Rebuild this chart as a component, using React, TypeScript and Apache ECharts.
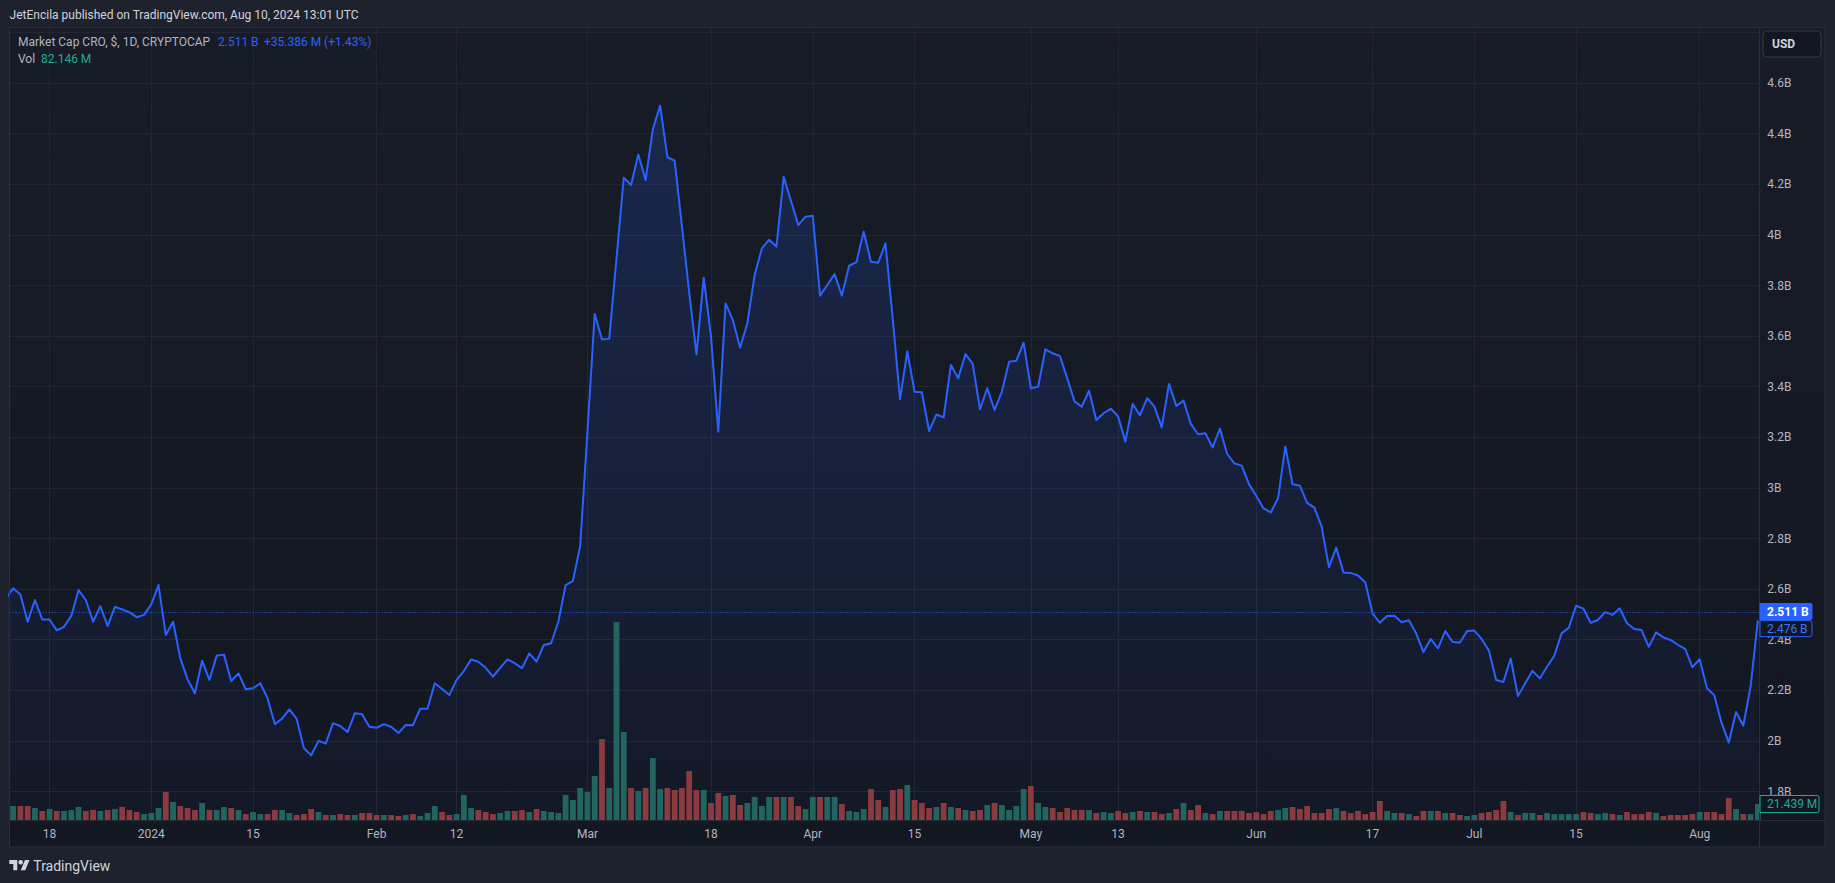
import React, { useEffect, useRef } from "react";
import * as echarts from "echarts";

// ---------- data ----------
const START_DATE = "2023-12-12"; // first daily close (partly outside the view)

// Market cap, billions USD, daily closes from 2023-12-12 to 2024-08-09
const marketCapB = [
  2.563,
  2.603, 2.579, 2.471, 2.557, 2.480, 2.480, 2.437, 2.451, 2.494, 2.596,
  2.557, 2.471, 2.533, 2.454, 2.530, 2.520, 2.508, 2.489, 2.498, 2.540,
  2.616, 2.419, 2.471, 2.326, 2.243, 2.188, 2.317, 2.241, 2.337, 2.341,
  2.237, 2.267, 2.204, 2.208, 2.228, 2.168, 2.066, 2.088, 2.125, 2.087,
  1.971, 1.943, 2.000, 1.989, 2.070, 2.059, 2.035, 2.109, 2.105, 2.056,
  2.052, 2.066, 2.056, 2.031, 2.063, 2.062, 2.127, 2.127, 2.228, 2.205,
  2.181, 2.241, 2.276, 2.322, 2.313, 2.289, 2.254, 2.289, 2.322, 2.307,
  2.287, 2.346, 2.313, 2.379, 2.386, 2.471, 2.616, 2.632, 2.770, 3.220,
  3.687, 3.587, 3.590, 3.907, 4.226, 4.197, 4.318, 4.217, 4.417, 4.511,
  4.307, 4.293, 4.034, 3.773, 3.528, 3.831, 3.598, 3.222, 3.729, 3.664,
  3.554, 3.651, 3.841, 3.947, 3.981, 3.953, 4.230, 4.134, 4.039, 4.072,
  4.076, 3.760, 3.802, 3.845, 3.760, 3.878, 3.892, 4.013, 3.894, 3.890,
  3.967, 3.668, 3.350, 3.540, 3.380, 3.378, 3.225, 3.290, 3.279, 3.486,
  3.433, 3.529, 3.490, 3.311, 3.394, 3.308, 3.380, 3.499, 3.503, 3.574,
  3.394, 3.400, 3.548, 3.532, 3.521, 3.433, 3.342, 3.321, 3.384, 3.268,
  3.295, 3.313, 3.282, 3.183, 3.332, 3.287, 3.355, 3.321, 3.239, 3.411,
  3.324, 3.345, 3.253, 3.212, 3.216, 3.160, 3.234, 3.134, 3.097, 3.088,
  3.015, 2.969, 2.919, 2.903, 2.959, 3.163, 3.014, 3.009, 2.941, 2.922,
  2.847, 2.686, 2.764, 2.666, 2.664, 2.654, 2.627, 2.504, 2.467, 2.494,
  2.495, 2.469, 2.477, 2.425, 2.351, 2.403, 2.366, 2.434, 2.392, 2.388,
  2.434, 2.436, 2.403, 2.357, 2.241, 2.233, 2.326, 2.177, 2.228, 2.277,
  2.247, 2.293, 2.336, 2.425, 2.447, 2.534, 2.523, 2.467, 2.478, 2.509,
  2.498, 2.524, 2.465, 2.442, 2.438, 2.372, 2.429, 2.409, 2.399, 2.380,
  2.364, 2.291, 2.323, 2.208, 2.181, 2.072, 1.994, 2.114, 2.060, 2.214,
  2.476,
];

// Volume, millions USD, same days
const volumeM = [
  16.1,
  18.8, 18.8, 18.8, 16.1, 12.1, 14.7, 12.1, 12.1, 13.4, 17.4,
  12.1, 13.4, 12.1, 13.4, 14.7, 17.4, 13.4, 10.7, 8.0, 9.4,
  16.1, 37.5, 24.1, 18.8, 16.1, 13.4, 22.8, 13.4, 13.4, 17.4,
  16.1, 13.4, 8.0, 10.7, 8.0, 8.0, 13.4, 13.4, 9.4, 6.7,
  8.0, 14.7, 10.7, 6.7, 6.7, 8.0, 6.7, 6.7, 9.4, 9.4,
  6.7, 6.7, 6.7, 5.4, 6.7, 8.0, 5.4, 9.4, 18.8, 10.7,
  6.7, 8.0, 33.5, 16.1, 13.4, 10.7, 8.0, 9.4, 12.1, 12.1,
  13.4, 10.7, 14.7, 12.1, 10.7, 9.4, 33.5, 26.8, 42.9, 37.5,
  59.0, 108.5, 42.9, 265.3, 117.9, 42.9, 38.9, 42.9, 83.1, 41.5,
  42.9, 40.2, 42.9, 65.7, 40.2, 40.2, 22.8, 36.2, 32.2, 33.5,
  20.1, 22.8, 30.8, 18.8, 30.8, 30.8, 30.8, 30.8, 18.8, 14.7,
  30.8, 30.8, 30.8, 30.8, 21.4, 12.1, 10.7, 14.7, 41.5, 26.8,
  17.4, 40.2, 41.5, 46.9, 26.8, 22.8, 16.1, 17.4, 22.8, 17.4,
  16.1, 13.4, 12.1, 13.4, 20.1, 22.8, 20.1, 13.4, 18.8, 41.5,
  45.6, 22.8, 17.4, 16.1, 10.7, 16.1, 13.4, 13.4, 13.4, 9.4,
  10.7, 9.4, 12.1, 9.4, 10.7, 12.1, 10.7, 10.7, 8.0, 9.4,
  14.7, 22.8, 13.4, 20.1, 9.4, 8.0, 12.1, 12.1, 12.1, 12.1,
  9.4, 10.7, 8.0, 12.1, 13.4, 16.1, 17.4, 14.7, 18.8, 9.4,
  9.4, 14.7, 16.1, 12.1, 9.4, 12.1, 8.0, 10.7, 25.5, 12.1,
  9.4, 9.4, 8.0, 5.4, 12.1, 12.1, 12.1, 9.4, 9.4, 6.7,
  5.4, 6.7, 9.4, 10.7, 13.4, 25.5, 10.7, 6.7, 9.4, 9.4,
  6.7, 9.4, 8.0, 8.0, 8.0, 8.0, 10.7, 9.4, 8.0, 9.4,
  8.0, 6.7, 10.7, 8.0, 8.0, 10.7, 9.4, 5.4, 6.7, 6.7,
  6.7, 8.0, 10.7, 10.7, 10.7, 8.0, 29.5, 14.7, 8.0, 8.0,
  21.439,
];

const tickDates = [
  "2023-12-18", "2024-01-01", "2024-01-15", "2024-02-01", "2024-02-12", "2024-03-01",
  "2024-03-18", "2024-04-01", "2024-04-15", "2024-05-01", "2024-05-13", "2024-06-01",
  "2024-06-17", "2024-07-01", "2024-07-15", "2024-08-01",
];
const tickLabels = ["18", "2024", "15", "Feb", "12", "Mar", "18", "Apr", "15", "May", "13", "Jun", "17", "Jul", "15", "Aug"];

const priceGridTicks = [1.8, 2.0, 2.2, 2.4, 2.6, 2.8, 3.0, 3.2, 3.4, 3.6, 3.8, 4.0, 4.2, 4.4, 4.6, 4.8];
const priceLabelTicks = [1.8, 2.0, 2.2, 2.4, 2.6, 2.8, 3.0, 3.2, 3.4, 3.6, 3.8, 4.0, 4.2, 4.4, 4.6];

const LAST_PRICE = 2.511;
const LAST_PRICE_TEXT = "2.511 B";
const PREV_PRICE_TEXT = "2.476 B";
const LAST_VOLUME = 21.439;
const LAST_VOLUME_TEXT = "21.439 M";

const HEADER_TEXT = "JetEncila published on TradingView.com, Aug 10, 2024 13:01 UTC";
const LEGEND_SYMBOL = "Market Cap CRO, $, 1D, CRYPTOCAP";
const LEGEND_PRICE = "2.511 B";
const LEGEND_CHANGE = "+35.386 M (+1.43%)";
const LEGEND_VOL = "82.146 M";

// ---------- style ----------
const FONT = 'Roboto, "Noto Sans", "DejaVu Sans", sans-serif';
const BLUE = "#2962ff";
const TEAL_TEXT = "#22ab94";
const UP = "#22655f";
const DOWN = "#8b3a40";
const GRID = "#232632";
const FRAME = "#2a2e39";
const AXIS_TEXT = "#b2b5be";
const OUTER_BG = "#1e222d";
const PANE_BG = "#131722";

const PANE_L = 9.5;
const PANE_T = 27;
const AXIS_X = 1759.3;
const TIME_Y = 820;
const PANE_R = 1825;
const PANE_B = 847;
const X_MIN = 0.5;

let logoRegistered = false;
function registerLogo() {
  if (logoRegistered) return;
  echarts.graphic.registerShape(
    "tvlogo",
    echarts.graphic.extendPath("M14 22H7V11H0V4h14v18zM28 22h-8l7.5-18h8L28 22z", {})
  );
  logoRegistered = true;
}

function dayIndex(d: string): number {
  return Math.round((Date.parse(d + "T00:00:00Z") - Date.parse(START_DATE + "T00:00:00Z")) / 86400000);
}

function buildOption() {
  const tickIdx = tickDates.map(dayIndex);
  const n = marketCapB.length;
  const lineData = marketCapB.map((v, i) => [i, v]);
  // only bars whose day lies inside the visible range
  const volData = volumeM
    .map((v, i) => ({
      value: [i, v],
      itemStyle: { color: i > 0 && marketCapB[i] < marketCapB[i - 1] ? DOWN : UP },
    }))
    .filter((d) => d.value[0] >= X_MIN);
  const pxPerB = 253;
  const yMin = 1.8 - (TIME_Y - 791.5) / pxPerB;
  const yMax = 1.8 + (791.5 - PANE_T) / pxPerB;
  const gridW = AXIS_X - PANE_L;
  const gridH = TIME_Y - PANE_T;
  const xMax = n - 1 + 0.2;

  return {
    animation: false,
    backgroundColor: OUTER_BG,
    textStyle: { fontFamily: FONT },
    grid: [
      { left: PANE_L, top: PANE_T, width: gridW, height: gridH, show: false },
      { left: PANE_L, top: PANE_T, width: gridW, height: gridH, show: false },
    ],
    xAxis: [
      {
        type: "value",
        gridIndex: 0,
        min: X_MIN,
        max: xMax,
        position: "bottom",
        axisLine: { show: false },
        axisTick: { show: false, customValues: tickIdx },
        axisLabel: {
          customValues: tickIdx,
          formatter: (v: number) => {
            const k = tickIdx.indexOf(Math.round(v));
            return k >= 0 ? tickLabels[k] : "";
          },
          color: AXIS_TEXT,
          fontSize: 12,
          fontFamily: FONT,
          margin: 8,
        },
        splitLine: { show: true, lineStyle: { color: GRID, width: 1 } },
      },
      { type: "value", gridIndex: 1, min: X_MIN, max: xMax, show: false },
    ],
    yAxis: [
      {
        type: "value",
        gridIndex: 0,
        position: "right",
        min: yMin,
        max: yMax,
        axisLine: { show: false },
        axisTick: { show: false, customValues: priceGridTicks },
        axisLabel: {
          customValues: priceLabelTicks,
          formatter: (v: number) => `${parseFloat(v.toFixed(1))}B`,
          color: AXIS_TEXT,
          fontSize: 12,
          fontFamily: FONT,
          margin: 8,
        },
        splitLine: { show: true, lineStyle: { color: GRID, width: 1 } },
      },
      { type: "value", gridIndex: 1, min: 0, max: gridH * 1.34, show: false },
    ],
    series: [
      {
        type: "line",
        name: "Market Cap",
        xAxisIndex: 0,
        yAxisIndex: 0,
        data: lineData,
        symbol: "none",
        clip: true,
        z: 1,
        lineStyle: { color: BLUE, width: 2, join: "round" },
        areaStyle: {
          origin: "start",
          color: {
            type: "linear",
            x: 0,
            y: 0,
            x2: 0,
            y2: 1,
            colorStops: [
              { offset: 0, color: "rgba(41,98,255,0.24)" },
              { offset: 0.5, color: "rgba(41,98,255,0.15)" },
              { offset: 1, color: "rgba(41,98,255,0.02)" },
            ],
          },
        },
        markLine: {
          silent: true,
          symbol: ["none", "none"],
          label: { show: false },
          lineStyle: { color: BLUE, type: [1, 2], width: 1 },
          data: [{ yAxis: LAST_PRICE }],
        },
      },
      {
        type: "bar",
        name: "Vol",
        xAxisIndex: 1,
        yAxisIndex: 1,
        data: volData,
        barWidth: 5.8,
        clip: true,
        z: 2,
      },
    ],
  };
}

function buildGraphics(yLast: number, yVol: number) {
  registerLogo();
  const s = 0.57;
  const lx = 9.3;
  const ly = 857.7;
  return [
    // pane background
    {
      type: "rect",
      z: -1,
      silent: true,
      shape: { x: PANE_L - 0.5, y: PANE_T, width: PANE_R - PANE_L + 0.5, height: PANE_B - PANE_T },
      style: {
        fill: {
          type: "linear",
          x: 0,
          y: 0,
          x2: 0,
          y2: 1,
          colorStops: [
            { offset: 0, color: "#181c27" },
            { offset: 1, color: PANE_BG },
          ],
        },
      },
    },
    // frame
    {
      type: "rect",
      z: 50,
      silent: true,
      shape: { x: PANE_L, y: PANE_T + 0.5, width: PANE_R - PANE_L, height: PANE_B - PANE_T - 0.5 },
      style: { fill: "none", stroke: FRAME, lineWidth: 1 },
    },
    {
      type: "line",
      z: 50,
      silent: true,
      shape: { x1: AXIS_X + 0.2, y1: PANE_T, x2: AXIS_X + 0.2, y2: PANE_B },
      style: { stroke: FRAME, lineWidth: 1 },
    },
    {
      type: "line",
      z: 50,
      silent: true,
      shape: { x1: PANE_L, y1: TIME_Y + 0.5, x2: PANE_R, y2: TIME_Y + 0.5 },
      style: { stroke: FRAME, lineWidth: 1 },
    },
    // header
    {
      type: "text",
      z: 60,
      x: 9.6,
      y: 15,
      style: { text: HEADER_TEXT, fill: "#d1d4dc", fontSize: 12, fontFamily: FONT, verticalAlign: "middle" },
    },
    // legend
    {
      type: "text",
      z: 60,
      x: 18,
      y: 42,
      style: {
        text: `{a|${LEGEND_SYMBOL}}{b|${LEGEND_PRICE}}{c|${LEGEND_CHANGE}}`,
        fontSize: 12,
        fontFamily: FONT,
        verticalAlign: "middle",
        rich: {
          a: { width: 200, fill: AXIS_TEXT, color: AXIS_TEXT, fontSize: 12, fontFamily: FONT },
          b: { width: 46, fill: BLUE, color: BLUE, fontSize: 12, fontFamily: FONT },
          c: { fill: BLUE, color: BLUE, fontSize: 12, fontFamily: FONT },
        },
      },
    },
    {
      type: "text",
      z: 60,
      x: 18,
      y: 59,
      style: {
        text: `{a|Vol}{b|${LEGEND_VOL}}`,
        fontSize: 12,
        fontFamily: FONT,
        verticalAlign: "middle",
        rich: {
          a: { width: 23, fill: AXIS_TEXT, color: AXIS_TEXT, fontSize: 12, fontFamily: FONT },
          b: { fill: TEAL_TEXT, color: TEAL_TEXT, fontSize: 12, fontFamily: FONT },
        },
      },
    },
    // USD box
    {
      type: "rect",
      z: 60,
      silent: true,
      shape: { x: 1763, y: 31, width: 58, height: 26, r: 4 },
      style: { fill: PANE_BG, stroke: "#363a45", lineWidth: 1 },
    },
    {
      type: "text",
      z: 61,
      x: 1772,
      y: 44,
      style: { text: "USD", fill: "#d1d4dc", fontSize: 12, fontWeight: "bold", fontFamily: FONT, verticalAlign: "middle" },
    },
    // last price label
    {
      type: "rect",
      z: 60,
      silent: true,
      shape: { x: AXIS_X + 0.2, y: yLast - 8.5, width: 53, height: 17, r: [0, 2, 2, 0] },
      style: { fill: BLUE },
    },
    {
      type: "text",
      z: 61,
      x: 1767,
      y: yLast,
      style: { text: LAST_PRICE_TEXT, fill: "#ffffff", fontSize: 12, fontWeight: "bold", fontFamily: FONT, verticalAlign: "middle" },
    },
    {
      type: "rect",
      z: 60,
      silent: true,
      shape: { x: AXIS_X + 0.7, y: yLast + 9, width: 52, height: 16, r: [0, 2, 2, 0] },
      style: { fill: PANE_BG, stroke: BLUE, lineWidth: 1 },
    },
    {
      type: "text",
      z: 61,
      x: 1767,
      y: yLast + 17,
      style: { text: PREV_PRICE_TEXT, fill: "#3b78ff", fontSize: 12, fontFamily: FONT, verticalAlign: "middle" },
    },
    // last volume label
    {
      type: "rect",
      z: 60,
      silent: true,
      shape: { x: AXIS_X + 0.7, y: yVol - 8.5, width: 59, height: 17, r: [0, 2, 2, 0] },
      style: { fill: PANE_BG, stroke: TEAL_TEXT, lineWidth: 1 },
    },
    {
      type: "text",
      z: 61,
      x: 1767,
      y: yVol,
      style: { text: LAST_VOLUME_TEXT, fill: TEAL_TEXT, fontSize: 12, fontFamily: FONT, verticalAlign: "middle" },
    },
    // TradingView logo
    {
      type: "tvlogo",
      z: 60,
      x: lx,
      y: ly,
      scaleX: s,
      scaleY: s,
      style: { fill: "#d1d4dc" },
    },
    {
      type: "circle",
      z: 60,
      shape: { cx: lx + 20 * s, cy: ly + 8 * s, r: 4 * s },
      style: { fill: "#d1d4dc" },
    },
    {
      type: "text",
      z: 60,
      x: 33.3,
      y: 866,
      style: { text: "TradingView", fill: "#d1d4dc", fontSize: 14, fontFamily: FONT, verticalAlign: "middle" },
    },
  ];
}

export default function App() {
  const ref = useRef<HTMLDivElement>(null);
  useEffect(() => {
    document.body.style.margin = "0";
    const el = ref.current;
    if (!el) return;
    const chart = echarts.init(el, null, { renderer: "svg" });
    chart.setOption(buildOption() as any);
    const yLast = chart.convertToPixel({ yAxisIndex: 0 } as any, LAST_PRICE) as unknown as number;
    const yVol = chart.convertToPixel({ yAxisIndex: 1 } as any, LAST_VOLUME) as unknown as number;
    chart.setOption({ graphic: buildGraphics(yLast, yVol) } as any);
    return () => chart.dispose();
  }, []);
  return (
    <div
      ref={ref}
      style={{ position: "fixed", left: 0, top: 0, width: 1835, height: 883, background: OUTER_BG }}
    />
  );
}
